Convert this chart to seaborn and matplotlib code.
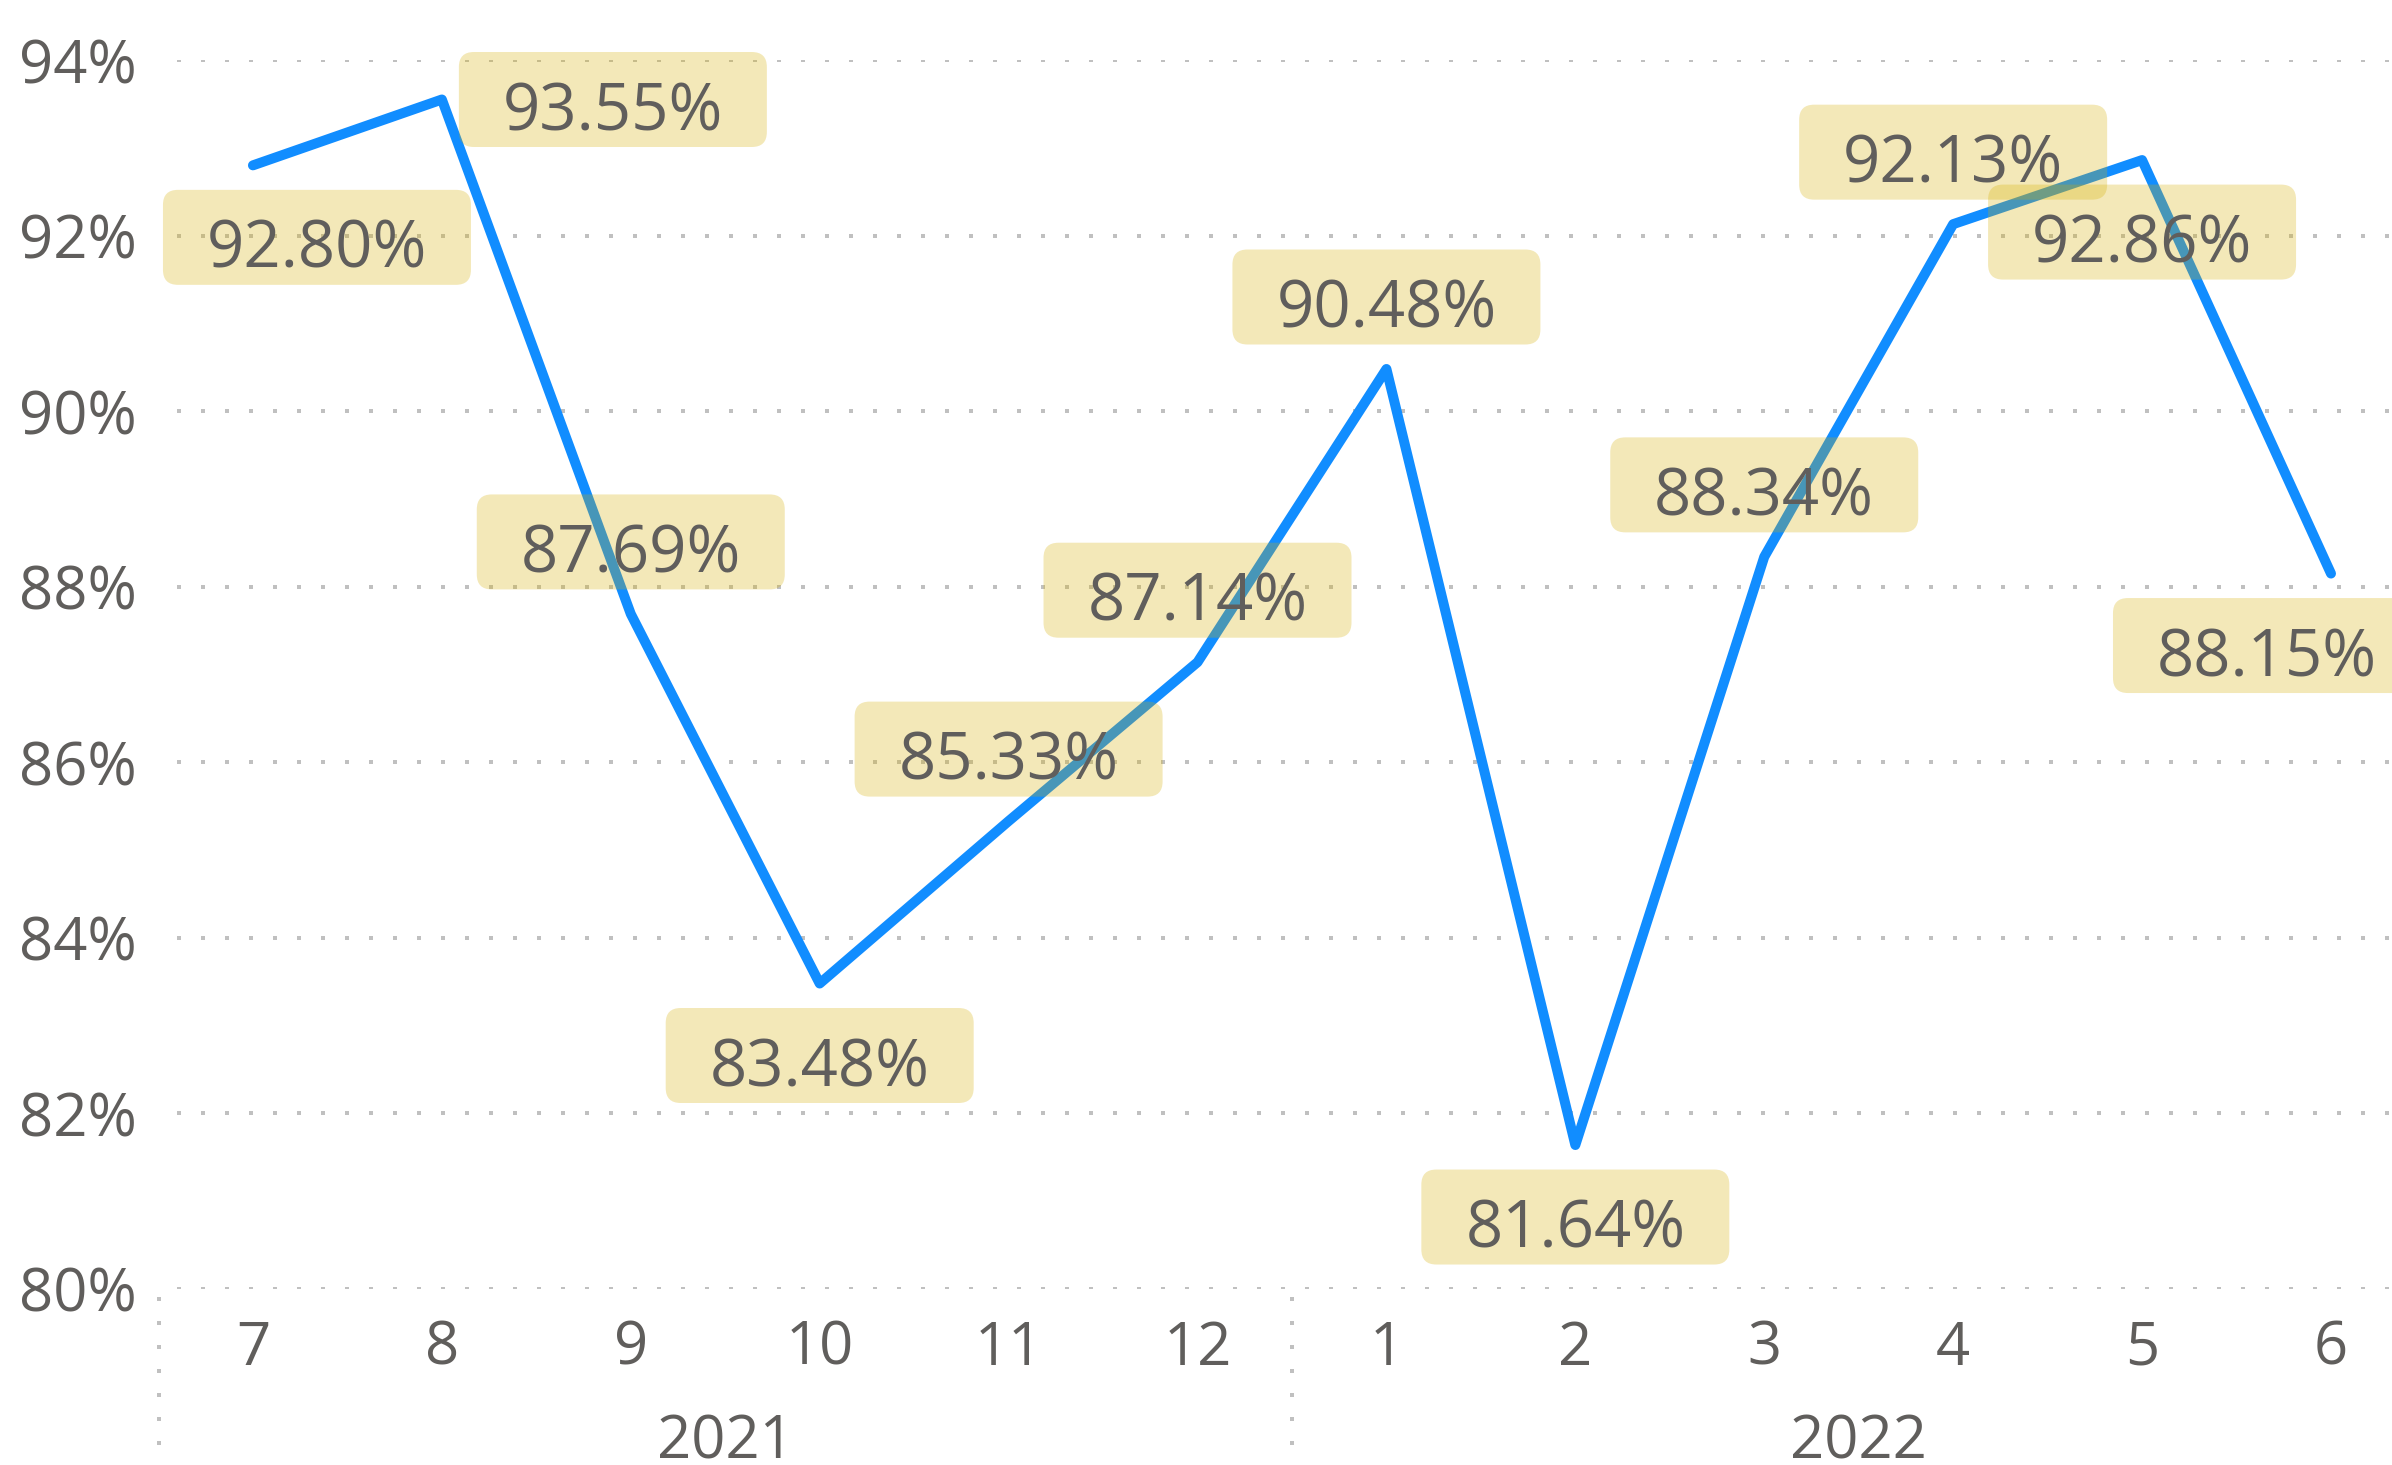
import matplotlib
matplotlib.use("Agg")
import matplotlib.pyplot as plt
from matplotlib.patches import BoxStyle
from matplotlib.transforms import blended_transform_factory
import pandas as pd
import seaborn as sns

# ---- data -------------------------------------------------------------
months = ["7", "8", "9", "10", "11", "12", "1", "2", "3", "4", "5", "6"]
years = ["2021", "2022"]
months_per_year = [6, 6]
rates = [92.80, 93.55, 87.69, 83.48, 85.33, 87.14,
         90.48, 81.64, 88.34, 92.13, 92.86, 88.15]
y_ticks = [80, 82, 84, 86, 88, 90, 92, 94]

# label box placement around each point (pixels, box centre)
label_pos = [(64, -72), (171, 0), (0, 72), (0, -72), (0, 72), (0, 72),
             (0, 72), (0, -72), (0, 72), (0, 72), (0, -72), (-64, -72)]

TEXT = "#605E5C"
LINE = "#118DFF"
GRID = "#C0C0C0"
BOX = (214 / 255, 175 / 255, 0 / 255, 0.28)

sns.set_style("white")
plt.rcParams["font.family"] = ["Open Sans", "DejaVu Sans"]

W, H, DPI = 2392, 1465, 100
fig = plt.figure(figsize=(W / DPI, H / DPI), dpi=DPI)
ax_left, ax_bottom = 158.5, 176
ax = fig.add_axes([ax_left / W, ax_bottom / H, 1 - ax_left / W, 1229 / H])

df = pd.DataFrame({"pos": range(len(rates)), "rate": rates})
sns.lineplot(data=df, x="pos", y="rate", ax=ax, color=LINE, linewidth=7.2,
             sort=False, solid_capstyle="round", solid_joinstyle="round",
             zorder=3)

xmax = 11.323
ax.set_xlim(-0.5, xmax)
ax.set_ylim(80, 94)
for s in ax.spines.values():
    s.set_visible(False)

ax.set_xticks(range(len(months)))
ax.set_xticklabels(months)
ax.set_yticks(y_ticks)
ax.set_yticklabels([f"{t}%" for t in y_ticks])
ax.set_xlabel("")
ax.set_ylabel("")
ax.tick_params(axis="both", length=0, labelsize=43, labelcolor=TEXT)
ax.tick_params(axis="y", pad=15.5)
ax.tick_params(axis="x", pad=21.5)

# dotted horizontal gridlines
dots = (0, (1, 5))
ax.hlines(y_ticks, -0.4, xmax, colors=GRID, linewidth=2.88,
          linestyles=dots, zorder=0)

# year separators and year labels below the month axis
blend = blended_transform_factory(ax.transData, ax.transAxes)
start = 0
for yr, n in zip(years, months_per_year):
    ax.plot([start - 0.5, start - 0.5], [-0.0065, -0.15], transform=blend,
            color=GRID, linewidth=2.88, linestyle=dots,
            clip_on=False, zorder=0)
    ax.text(start + (n - 1) / 2, -0.138, yr, transform=blend, ha="center",
            va="baseline", fontsize=43, color=TEXT)
    start += n


class LabelBox:
    """Fixed-size rounded box centred on the text, sized by font size."""

    def __init__(self, w, h, r, shift):
        self.w, self.h, self.r, self.shift = w, h, r, shift

    def __call__(self, x0, y0, width, height, mutation_size):
        cx = x0 + width / 2
        cy = y0 + height / 2 + self.shift * mutation_size
        bw, bh = self.w * mutation_size, self.h * mutation_size
        rnd = BoxStyle.Round(pad=0, rounding_size=self.r)
        return rnd(cx - bw / 2, cy - bh / 2, bw, bh, mutation_size)


label_size = 47
fs_px = label_size * DPI / 72
box_shift = 13.5
style = LabelBox(308 / fs_px, 95 / fs_px, 15 / fs_px, box_shift / fs_px)
for i, (v, (dx, dy)) in enumerate(zip(rates, label_pos)):
    ax.annotate(f"{v:.2f}%", xy=(i, v), xytext=(dx, dy - box_shift),
                textcoords="offset pixels", ha="center", va="center",
                fontsize=label_size, color=TEXT, zorder=5,
                annotation_clip=False,
                bbox=dict(boxstyle=style, fc=BOX, ec="none"))

fig.savefig("out.png", dpi=DPI)
